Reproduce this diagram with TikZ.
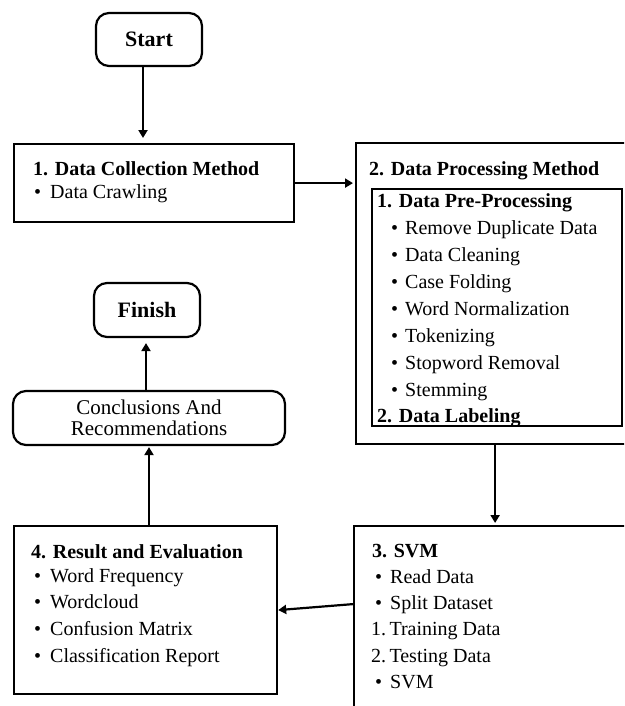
\documentclass[tikz,border=0pt]{standalone}
\usepackage{fontspec}
\setmainfont{Liberation Serif}
\usetikzlibrary{arrows.meta}
\newcommand\bitem[5]{%
  \node[txt] (#1b) at (#2,#4) {\textbullet};
  \node[txt] (#1) at (#3,#4) {#5};}
\begin{document}
\begin{tikzpicture}[x=1pt,y=-1pt,
  box/.style={draw, line width=2.2pt, anchor=north west, inner sep=0pt},
  rbox/.style={draw, line width=2.2pt, rounded corners=13pt, inner sep=0pt},
  txt/.style={anchor=base west, inner sep=0pt, font=\fontsize{20}{24}\selectfont},
  btxt/.style={anchor=base west, inner sep=0pt, font=\fontsize{20}{24}\selectfont\bfseries},
  arr/.style={line width=2.2pt, -{Triangle[width=9pt,length=8pt]}},
]
\useasboundingbox (0,0) rectangle (624,706);
\clip (0,0) rectangle (624,706);
\fill[white] (0,0) rectangle (624,706);

% terminals
\node[rbox, minimum width=106pt, minimum height=53pt, font=\fontsize{22}{26}\selectfont\bfseries] (start) at (149,39.5) {Start};
\node[rbox, minimum width=106pt, minimum height=54pt, font=\fontsize{22}{26}\selectfont\bfseries] (finish) at (147,310) {Finish};
\node[rbox, minimum width=272pt, minimum height=54pt, align=center, font=\fontsize{21}{20.5}\selectfont] (concl) at (149,418) {Conclusions And\\Recommendations};

% boxes
\node[box, minimum width=280pt, minimum height=78pt] (b1) at (13,143) {};
\node[box, minimum width=278pt, minimum height=301pt] (b2) at (355,142) {};
\node[box, minimum width=250pt, minimum height=237pt] (inner) at (371,188) {};
\node[box, minimum width=282pt, minimum height=200pt] (b3) at (353,525) {};
\node[box, minimum width=263pt, minimum height=168pt] (b4) at (13,525) {};

% box 1 text
\node[btxt] (t1) at (33,175) {1. Data Collection Method};
\bitem{t1a}{34}{50}{198}{Data Crawling}

% box 2 text
\node[btxt] (t2) at (369,175) {2. Data Processing Method};
\node[btxt] (t2a) at (377,207) {1. Data Pre-Processing};
\bitem{p1}{391}{405}{234.7}{Remove Duplicate Data}
\bitem{p2}{391}{405}{261.6}{Data Cleaning}
\bitem{p3}{391}{405}{288.5}{Case Folding}
\bitem{p4}{391}{405}{315.4}{Word Normalization}
\bitem{p5}{391}{405}{342.3}{Tokenizing}
\bitem{p6}{391}{405}{369.2}{Stopword Removal}
\bitem{p7}{391}{405}{396.1}{Stemming}
\node[btxt] (t2b) at (377,422) {2. Data Labeling};

% box 3 text
\node[btxt] (t3) at (372,557) {3. SVM};
\bitem{s1}{375}{390}{583}{Read Data}
\bitem{s2}{375}{390}{609}{Split Dataset}
\node[txt] (s3) at (371,635) {1.\,Training Data};
\node[txt] (s4) at (371,662) {2.\,Testing Data};
\bitem{s5}{375}{390}{688}{SVM}

% box 4 text
\node[btxt] (t4) at (31,558) {4. Result and Evaluation};
\bitem{r1}{34}{50}{582}{Word Frequency}
\bitem{r2}{34}{50}{608}{Wordcloud}
\bitem{r3}{34}{50}{635}{Confusion Matrix}
\bitem{r4}{34}{50}{662}{Classification Report}

% connectors
\draw[arr, shorten >=5pt] ([xshift=-6pt]start.south) -- ([xshift=-6pt]start.south |- b1.north);
\draw[arr, shorten >=2pt] (b1.east) -- (b1.east -| b2.west);
\draw[arr, shorten >=2pt] (b2.south) -- (b2.south |- b3.north);
\draw[arr] ([yshift=22pt]b3.west) -- (b4.east);
\draw[arr, shorten >=1pt] (concl.south |- b4.north) -- (concl.south);
\draw[arr, shorten >=5pt] ([xshift=-3pt]concl.north) -- ([xshift=-3pt]concl.north |- finish.south);
\end{tikzpicture}
\end{document}
